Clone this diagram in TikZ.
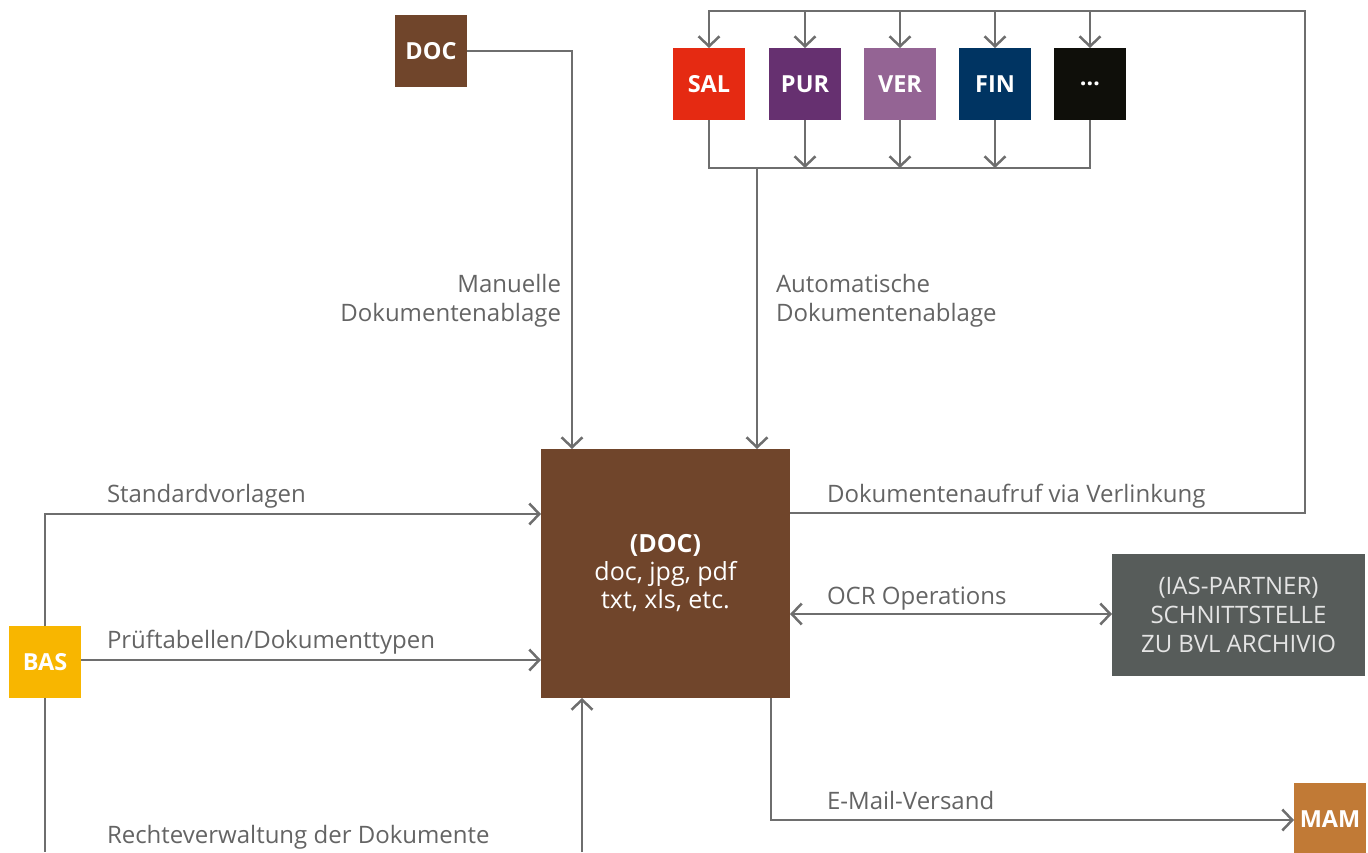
\documentclass[tikz,border=0pt]{standalone}
\usepackage{fontspec}
\setmainfont{Open Sans}
\usetikzlibrary{arrows.meta,calc}
\definecolor{lin}{HTML}{6E6E6E}
\definecolor{txt}{HTML}{646464}
\definecolor{docbrown}{HTML}{70452B}
\definecolor{salc}{HTML}{E52A12}
\definecolor{purc}{HTML}{663070}
\definecolor{verc}{HTML}{946494}
\definecolor{finc}{HTML}{003462}
\definecolor{dotc}{HTML}{0F0F0A}
\definecolor{basc}{HTML}{F8B600}
\definecolor{mamc}{HTML}{C17A36}
\definecolor{iasc}{HTML}{575C5A}
\definecolor{iastxt}{HTML}{E4E4E4}
\tikzset{
  sbox/.style={minimum width=72pt, minimum height=72pt, inner sep=0pt, outer sep=0pt,
    text=white, font=\fontsize{23.5}{27}\selectfont\bfseries},
  lbl/.style={inner sep=0pt, outer sep=0pt, text=txt, font=\fontsize{24}{29}\selectfont},
  conn/.style={draw=lin, line width=2.5pt},
  arr/.style={conn, -{Straight Barb[length=10pt,width=21pt]}},
  darr/.style={conn, {Straight Barb[length=10pt,width=21pt]}-{Straight Barb[length=10pt,width=21pt]}}
}
\begin{document}
\begin{tikzpicture}[x=1pt,y=-1pt]
\useasboundingbox (0,0) rectangle (1368,852);
\clip (0,0) rectangle (1368,852);

% boxes
\node[sbox, fill=docbrown] (doc) at (431,51) {DOC};
\node[sbox, fill=salc] (sal) at (709,84) {SAL};
\node[sbox, fill=purc] (pur) at (805,84) {PUR};
\node[sbox, fill=verc] (ver) at (900,84) {VER};
\node[sbox, fill=finc] (fin) at (995,84) {FIN};
\node[sbox, fill=dotc] (more) at (1090,84) {…};
\node[sbox, fill=basc] (bas) at (45,662) {BAS};
\node[sbox, fill=mamc] (mam) at (1330,819) {MAM};
\node[fill=docbrown, minimum width=249pt, minimum height=249pt, inner sep=0pt, outer sep=0pt,
  text=white, align=center, font=\fontsize{25}{28}\selectfont] (main) at (665.5,573.5)
  {\textbf{(DOC)}\\doc, jpg, pdf\\txt, xls, etc.};
\node[fill=iasc, minimum width=253pt, minimum height=122pt, inner sep=0pt, outer sep=0pt,
  text=iastxt, align=center, font=\fontsize{24}{29}\selectfont] (ias) at (1238.5,615)
  {(IAS-PARTNER)\\SCHNITTSTELLE\\ZU BVL ARCHIVIO};

% helper coordinates
\coordinate (tr) at (1305,11);
\coordinate (br) at (1305,513);
\coordinate (bl) at (0,168);
\coordinate (autostart) at (757,168);
\coordinate (manx) at (572,0);
\coordinate (y514) at (0,514);
\coordinate (y660) at (0,660);
\coordinate (y614) at (0,614);
\coordinate (y820) at (0,820);
\coordinate (basend) at (45,852);
\coordinate (rechte) at (582,852);
\coordinate (mailx) at (771,0);

% top distribution
\draw[arr] (main.east |- br) -- (br) -- (tr) -- (sal.north |- tr) -- (sal.north);
\foreach \n in {pur,ver,fin,more} \draw[arr] (\n.north |- tr) -- (\n.north);
% bottom collection
\draw[conn] (sal.south) -- (sal.south |- bl) -- (more.south |- bl) -- (more.south);
\foreach \n in {pur,ver,fin} \draw[arr] (\n.south) -- (\n.south |- bl);
\draw[arr] (autostart) -- (autostart |- main.north);
% manual
\draw[arr] (doc.east) -| (manx |- main.north);
% BAS
\draw[arr] (bas.north) |- (main.west |- y514);
\draw[arr] (bas.east |- y660) -- (main.west |- y660);
\draw[conn] (bas.south) -- (basend);
\draw[arr] (rechte) -- (rechte |- main.south);
% OCR
\draw[darr] (main.east |- y614) -- (ias.west |- y614);
% mail
\draw[arr] (mailx |- main.south) |- (mam.west |- y820);

% labels
\node[lbl, align=right, anchor=east] (lman) at (561,301) {Manuelle\\Dokumentenablage};
\node[lbl, align=left, anchor=west] (lauto) at (776,301) {Automatische\\Dokumentenablage};
\node[lbl, anchor=base west] (lstd) at (107,502.5) {Standardvorlagen};
\node[lbl, anchor=base west] (lpruef) at (107,648) {Prüftabellen/Dokumenttypen};
\node[lbl, anchor=base west] (lrecht) at (107,843) {Rechteverwaltung der Dokumente};
\node[lbl, anchor=base west] (lverl) at (827,502.5) {Dokumentenaufruf via Verlinkung};
\node[lbl, anchor=base west] (locr) at (827,604) {OCR Operations};
\node[lbl, anchor=base west] (lmail) at (827,809) {E-Mail-Versand};
\end{tikzpicture}
\end{document}
